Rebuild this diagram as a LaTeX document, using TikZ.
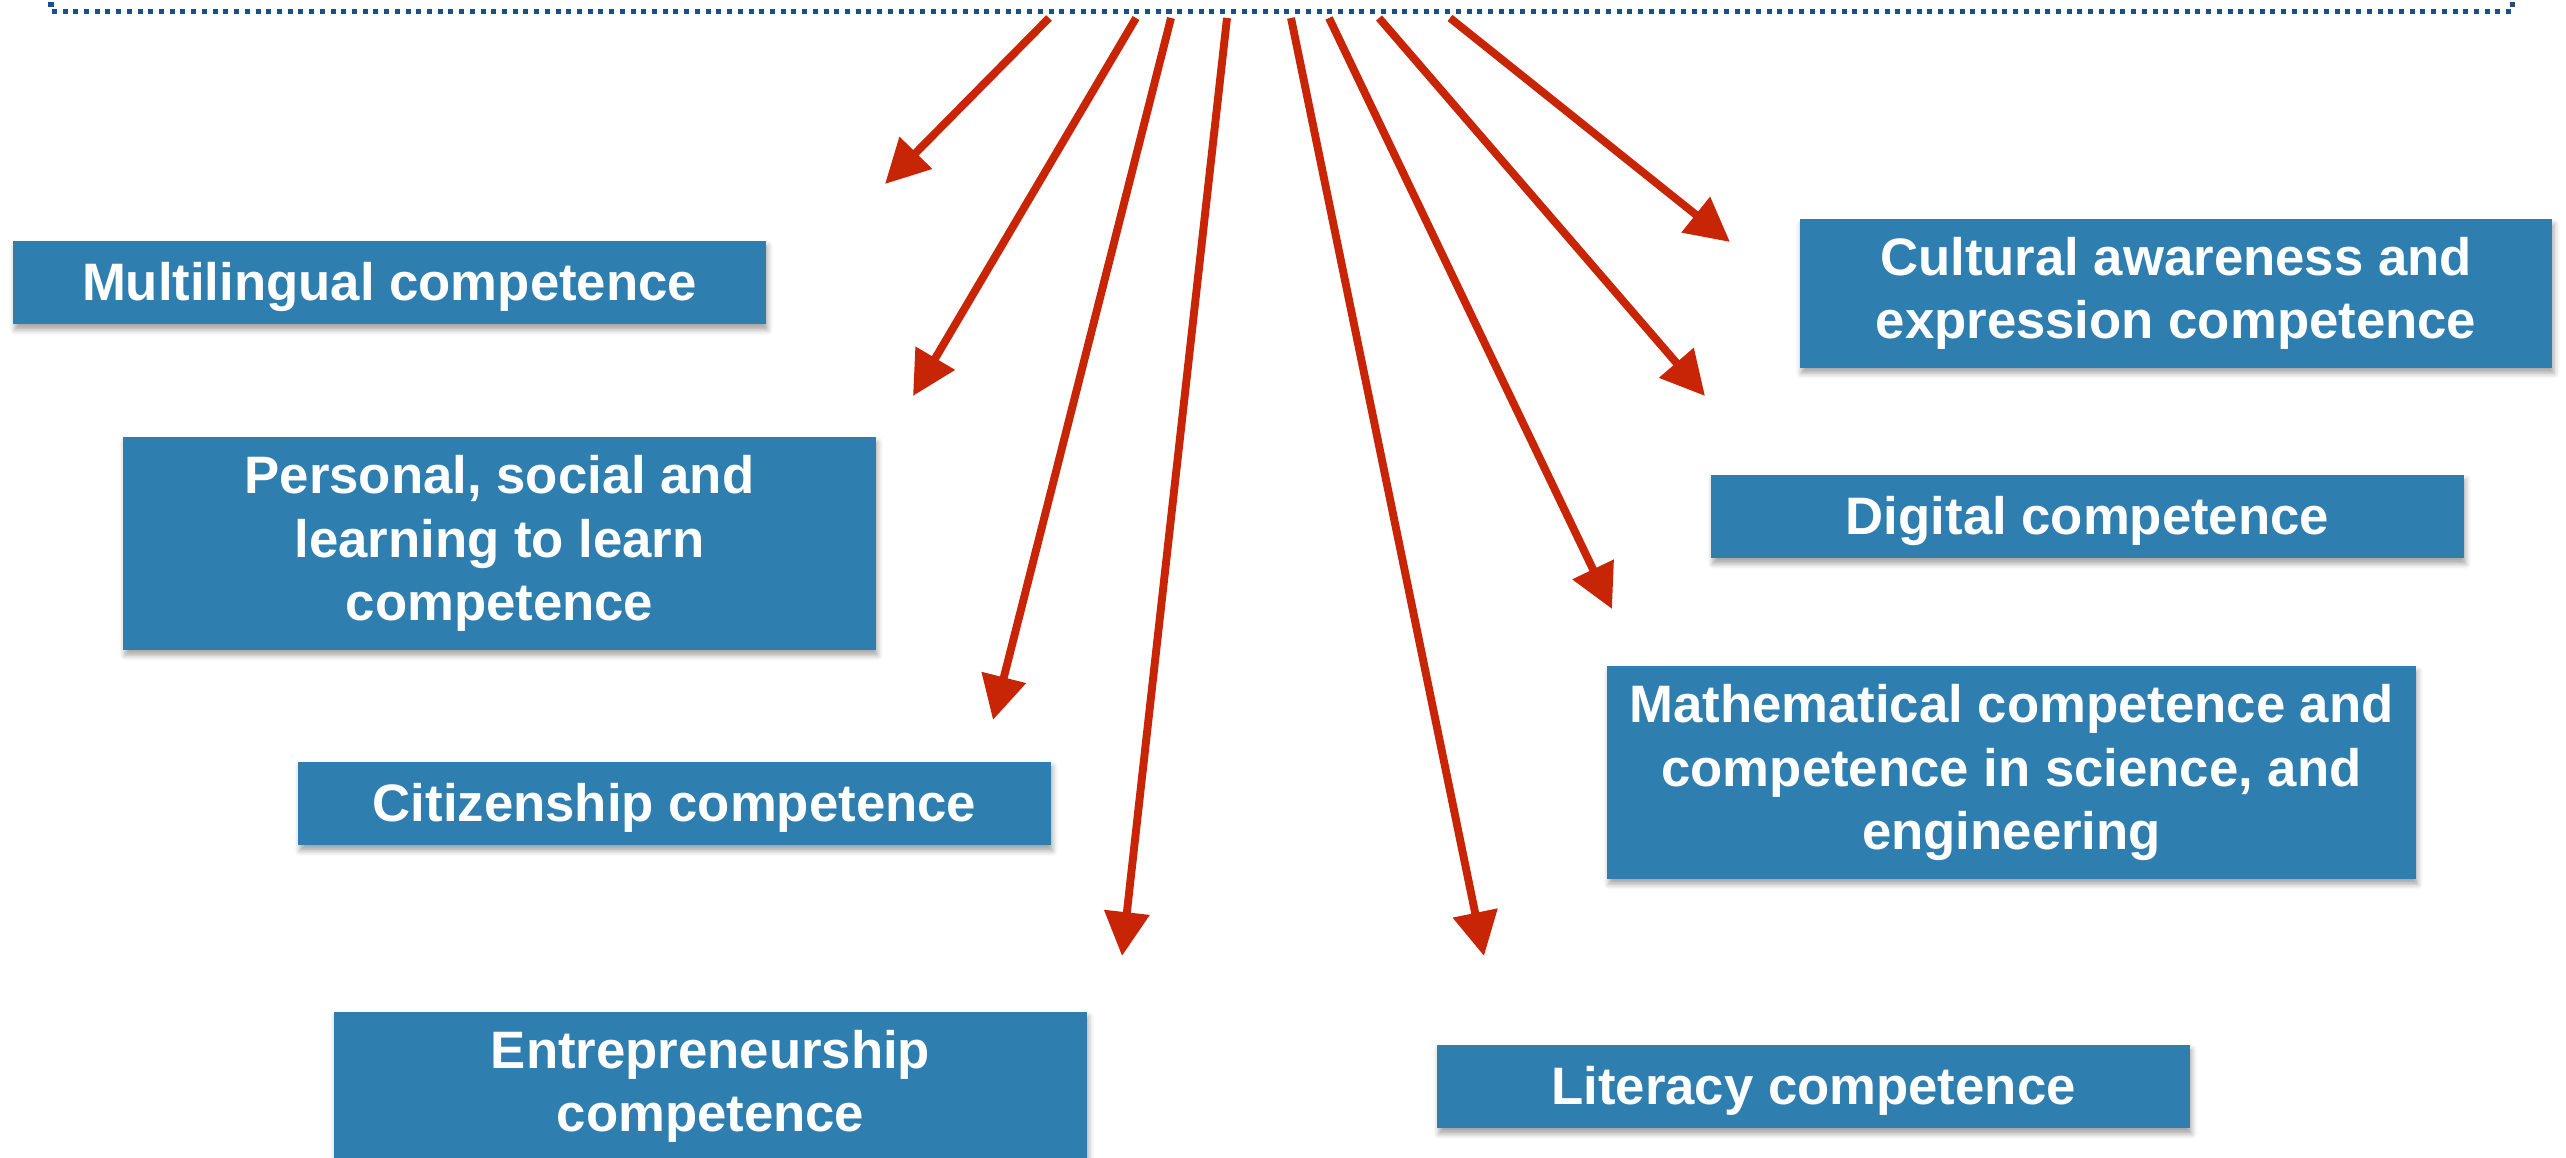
\documentclass[tikz,border=0pt]{standalone}
\usepackage{fontspec}
\setmainfont{Liberation Sans}
\usetikzlibrary{arrows.meta,shadows.blur}
\definecolor{boxblue}{RGB}{47,126,176}
\definecolor{arrowred}{RGB}{200,37,6}
\definecolor{frameblue}{RGB}{26,79,140}

\begin{document}
\begin{tikzpicture}[x=0.02cm,y=-0.02cm,
  comp/.style={fill=boxblue, text=white,
    font=\fontsize{30}{36}\selectfont\bfseries, align=center,
    inner sep=0pt, minimum width=15.06cm, minimum height=1.68cm,
    execute at begin node={\rule{0pt}{27pt}},
    blur shadow={shadow xshift=1pt, shadow yshift=-3pt,
      shadow blur radius=3pt, shadow opacity=35}},
  ray/.style={draw=arrowred, line width=4.5pt,
    -{Triangle[length=25pt,width=25pt]}},
  frame/.style={draw=frameblue, line width=2.85pt,
    dash pattern=on 2.85pt off 3.25pt}]

\useasboundingbox (0,0) rectangle (2566,1158);

% dotted frame whose lower edge runs along the top
\draw[frame] (51,-30) -- (51,12) -- (2512,12) -- (2512,-30);

% competence boxes
\node[comp] (multi) at (389.5,282.5) {Multilingual competence};
\node[comp, minimum height=4.26cm] (pers) at (499.5,543.5)
  {Personal, social and\\learning to learn\\competence};
\node[comp] (citi) at (674.5,803.5) {Citizenship competence};
\node[comp, minimum height=2.98cm] (entr) at (710.5,1086)
  {Entrepreneurship\\competence};
\node[comp] (lit) at (1813.5,1086.5) {Literacy competence};
\node[comp, minimum width=16.18cm, minimum height=4.26cm] (math) at (2011.5,772.5)
  {Mathematical competence and\\competence in science, and\\engineering};
\node[comp] (digi) at (2087.5,516.5) {Digital competence};
\node[comp, minimum height=2.98cm] (cult) at (2176,293.5)
  {Cultural awareness and\\expression competence};

% arrow start points on the frame and their tips
\coordinate (s1) at (1049,18);  \coordinate (t1) at (885,184);
\coordinate (s2) at (1136,18);  \coordinate (t2) at (913,396);
\coordinate (s3) at (1171,18);  \coordinate (t3) at (993,720);
\coordinate (s4) at (1227,18);  \coordinate (t4) at (1122,956);
\coordinate (s5) at (1291,18);  \coordinate (t5) at (1484,956);
\coordinate (s6) at (1329,18);  \coordinate (t6) at (1612,609);
\coordinate (s7) at (1379,18);  \coordinate (t7) at (1705,396);
\coordinate (s8) at (1450,18);  \coordinate (t8) at (1730,242);

\foreach \i in {1,...,8} \draw[ray] (s\i) -- (t\i);

\end{tikzpicture}
\end{document}
